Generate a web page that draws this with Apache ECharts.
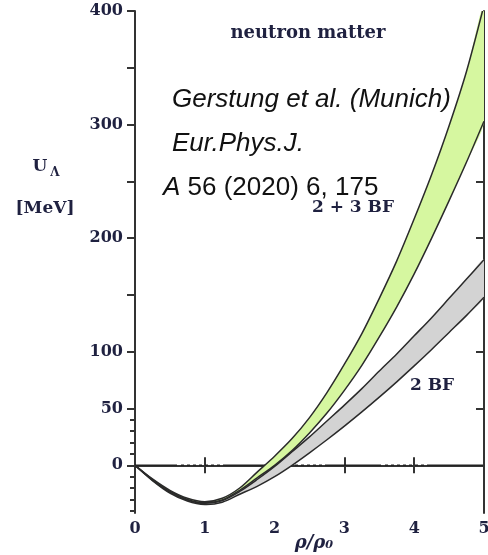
<!DOCTYPE html>
<html>
<head>
<meta charset="utf-8">
<title>Lambda potential in neutron matter</title>
<script src="https://cdn.jsdelivr.net/npm/echarts@6/dist/echarts.min.js"></script>
<style>
  html, body { margin: 0; padding: 0; background: #ffffff; }
  #chart { width: 488px; height: 555px; }
</style>
</head>
<body>
<div id="chart"></div>
<script>
// Density grid (rho / rho0)
var rho = [0, 0.25, 0.5, 0.75, 1, 1.25, 1.5, 1.75, 2, 2.25, 2.5, 2.75, 3, 3.25, 3.5, 3.75, 4, 4.25, 4.5, 4.75, 5];

// 2 + 3 body forces band (MeV): upper and lower edges
var bf23Upper = [0, -12, -22, -29, -32, -29, -20, -6, 8, 23.5, 42, 64, 89, 116, 147, 180, 217, 256, 299, 347, 405];
var bf23Lower = [0, -12.5, -23, -30, -33, -30.5, -22, -11, 0, 13, 28.5, 46, 66, 88, 113, 139.5, 168.5, 200, 233, 267, 303];

// 2 body forces band (MeV): upper and lower edges
var bf2Upper = [0, -13, -23.5, -30.5, -33.5, -31, -23, -12.5, -1, 12, 25, 39, 53, 67.5, 83, 98, 114, 130, 147, 164, 181];
var bf2Lower = [0, -13.5, -24.5, -31.5, -34.5, -32.5, -25.5, -18.5, -10, 0, 11, 22.5, 34.5, 47, 60, 73.5, 87.5, 102, 117, 132, 148];

// Axis ticks
var xTicks = [0, 1, 2, 3, 4, 5];
var yLabelTicks = [0, 50, 100, 200, 300, 400];
var yMajorTicks = [0, 50, 100, 150, 200, 250, 300, 350, 400];
var yMinorTicks = [-40, -30, -20, -10, 10, 20, 30, 40];
var yRightTicks = [50, 100, 150, 200, 250, 300, 350];

var ink = '#1f2140';
var axisColor = '#333333';
var edgeColor = '#2a2a2a';
var serif = '"DejaVu Serif", "Liberation Serif", serif';
var sans = '"Liberation Sans", Arial, sans-serif';
var SMOOTH = 0.3;

// One band: filled region between two edges, with both edges stroked.
function bandSeries(lower, upper, fill, z) {
  return {
    type: 'custom',
    coordinateSystem: 'cartesian2d',
    clip: true,
    silent: true,
    z: z,
    data: rho.map(function (r, i) { return [r, lower[i], upper[i]]; }),
    encode: { x: 0, y: [1, 2] },
    renderItem: function (params, api) {
      if (params.dataIndex !== 0) return null;
      var up = rho.map(function (r, i) { return api.coord([r, upper[i]]); });
      var lo = rho.map(function (r, i) { return api.coord([r, lower[i]]); });
      var outline = up.concat(lo.slice().reverse());
      return {
        type: 'group',
        children: [
          { type: 'polygon', shape: { points: outline, smooth: SMOOTH }, style: { fill: fill, stroke: null } },
          { type: 'polyline', shape: { points: lo, smooth: SMOOTH }, style: { fill: null, stroke: edgeColor, lineWidth: 1.5 } },
          { type: 'polyline', shape: { points: up, smooth: SMOOTH }, style: { fill: null, stroke: edgeColor, lineWidth: 1.5 } }
        ]
      };
    }
  };
}

var yBase = { type: 'value', min: -42, max: 400, splitLine: { show: false } };

var option = {
  animation: false,
  backgroundColor: '#ffffff',
  grid: { left: 135, right: 4, top: 11, bottom: 42, containLabel: false, outerBoundsMode: 'none' },
  xAxis: [
    {
      type: 'value', min: 0, max: 5, position: 'bottom',
      splitLine: { show: false },
      axisLine: { lineStyle: { color: axisColor, width: 2 } },
      axisTick: { inside: true, length: 8, customValues: xTicks, lineStyle: { color: axisColor, width: 2 } },
      axisLabel: { customValues: xTicks, margin: 8, color: ink, fontFamily: serif, fontWeight: 'bold', fontSize: 16 }
    },
    {
      type: 'value', min: 0, max: 5, position: 'top',
      splitLine: { show: false },
      axisLine: { lineStyle: { color: axisColor, width: 2 } },
      axisTick: { inside: true, length: 8, customValues: [1, 2, 3, 4], lineStyle: { color: axisColor, width: 2 } },
      axisLabel: { show: false }
    }
  ],
  yAxis: [
    Object.assign({}, yBase, {
      position: 'left',
      axisLine: { lineStyle: { color: axisColor, width: 2 } },
      axisTick: { inside: false, length: 8, customValues: yMajorTicks, lineStyle: { color: axisColor, width: 2 } },
      axisLabel: { customValues: yLabelTicks, margin: 12, color: ink, fontFamily: serif, fontWeight: 'bold', fontSize: 16 }
    }),
    Object.assign({}, yBase, {
      position: 'left', offset: 0,
      axisLine: { show: false },
      axisTick: { inside: false, length: 5, customValues: yMinorTicks, lineStyle: { color: axisColor, width: 2 } },
      axisLabel: { show: false }
    }),
    Object.assign({}, yBase, {
      position: 'right', offset: 0,
      axisLine: { lineStyle: { color: axisColor, width: 2 } },
      axisTick: { inside: true, length: 8, customValues: yRightTicks, lineStyle: { color: axisColor, width: 2 } },
      axisLabel: { show: false }
    })
  ],
  series: [
    {
      // zero reference line: long dashes alternating with dotted stretches
      type: 'line',
      data: [[rho[0], 0], [rho[rho.length - 1], 0]],
      showSymbol: false, silent: true, z: 1,
      lineStyle: {
        color: '#222222', width: 1.5,
        type: [56, 4, 3, 3, 3, 3, 3, 3, 3, 3, 3, 3, 3, 3, 3, 3],
        dashOffset: 14
      }
    },
    bandSeries(bf2Lower, bf2Upper, '#d3d3d3', 2),
    bandSeries(bf23Lower, bf23Upper, '#d6f7a0', 3)
  ],
  graphic: [
    { type: 'text', x: 308, y: 33, z: 10,
      style: { text: 'neutron matter', fill: ink, fontFamily: serif, fontWeight: 'bold', fontSize: 18, align: 'center', verticalAlign: 'middle' } },
    { type: 'text', x: 172, y: 100, z: 10,
      style: { text: 'Gerstung et al. (Munich)', fill: '#111111', fontFamily: sans, fontStyle: 'italic', fontSize: 26, align: 'left', verticalAlign: 'middle' } },
    { type: 'text', x: 172, y: 144, z: 10,
      style: { text: 'Eur.Phys.J.', fill: '#111111', fontFamily: sans, fontStyle: 'italic', fontSize: 26, align: 'left', verticalAlign: 'middle' } },
    { type: 'text', x: 163, y: 188, z: 10,
      style: {
        text: '{i|A} 56 (2020) 6, 175', fill: '#111111', fontFamily: sans, fontSize: 26, align: 'left', verticalAlign: 'middle',
        rich: { i: { fontFamily: sans, fontStyle: 'italic', fontSize: 26, fill: '#111111' } }
      } },
    { type: 'text', x: 353, y: 208, z: 10,
      style: { text: '2 + 3 BF', fill: ink, fontFamily: serif, fontWeight: 'bold', fontSize: 17, align: 'center', verticalAlign: 'middle' } },
    { type: 'text', x: 432, y: 386, z: 10,
      style: { text: '2 BF', fill: ink, fontFamily: serif, fontWeight: 'bold', fontSize: 17, align: 'center', verticalAlign: 'middle' } },
    { type: 'text', x: 40, y: 167, z: 10,
      style: { text: 'U', fill: ink, fontFamily: serif, fontWeight: 'bold', fontSize: 17, align: 'center', verticalAlign: 'middle' } },
    { type: 'text', x: 55, y: 173, z: 10,
      style: { text: 'Λ', fill: ink, fontFamily: serif, fontWeight: 'bold', fontSize: 12, align: 'center', verticalAlign: 'middle' } },
    { type: 'text', x: 45, y: 209, z: 10,
      style: { text: '[MeV]', fill: ink, fontFamily: serif, fontWeight: 'bold', fontSize: 17, align: 'center', verticalAlign: 'middle' } },
    { type: 'text', x: 314, y: 543, z: 10,
      style: { text: 'ρ/ρ₀', fill: ink, fontFamily: serif, fontStyle: 'italic', fontWeight: 'bold', fontSize: 18, align: 'center', verticalAlign: 'middle' } }
  ]
};

var chart = echarts.init(document.getElementById('chart'), null, { renderer: 'canvas' });
chart.setOption(option);
</script>
</body>
</html>
